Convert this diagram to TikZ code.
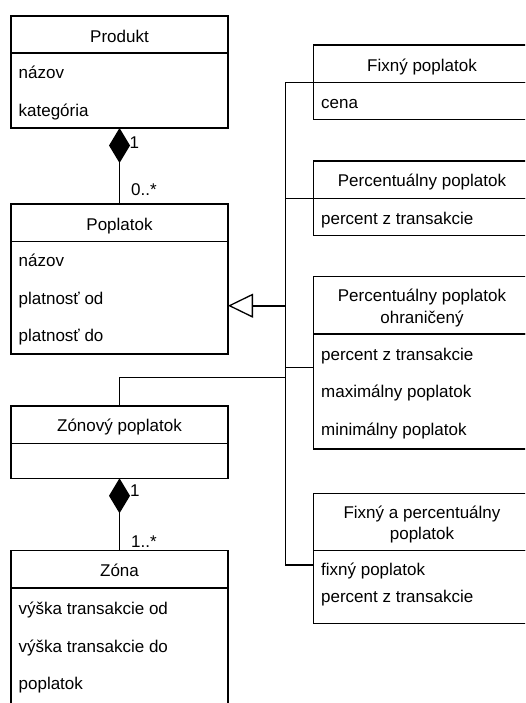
\documentclass[tikz,border=0pt]{standalone}
\usepackage{fontspec}
\setmainfont{Liberation Sans}
\usetikzlibrary{arrows.meta}
\begin{document}
\begin{tikzpicture}[x=1pt,y=-1pt,
  line width=1.3pt,
  every node/.style={font=\fontsize{17pt}{21pt}\selectfont},
  classbox/.style={draw, rectangle, inner sep=0pt, outer sep=0pt,
    minimum width=217pt, anchor=north west},
  headtext/.style={anchor=base, inner sep=0pt, align=center},
  attr/.style={anchor=base west, inner sep=0pt},
  mult/.style={anchor=base west, inner sep=0pt},
  compose/.style={{Diamond[length=35pt,width=21pt]}-},
  genarrow/.style={line width=2pt,
    -{Triangle[open,length=25pt,width=24pt,line width=1.3pt]}},
]
\useasboundingbox (0,0) rectangle (525,703);
\fill[white] (0,0) rectangle (525,703);
\clip (0,0) rectangle (525,703);

% ---------- left column ----------
% Produkt
\node[classbox, minimum height=37pt] (prodH) at (11,16) {};
\node[classbox, minimum height=75pt] (prodB) at (11,53) {};
\node[headtext] (prodT) at (119.5,42.5) {Produkt};
\node[attr] (prodA1) at (18,79) {názov};
\node[attr] (prodA2) at (18,116.5) {kategória};

% Poplatok
\node[classbox, minimum height=37.7pt] (popH) at (11,204) {};
\node[classbox, minimum height=112.3pt] (popB) at (11,241.7) {};
\node[headtext] (popT) at (119.5,230) {Poplatok};
\node[attr] (popA1) at (18,266.7) {názov};
\node[attr] (popA2) at (18,304.3) {platnosť od};
\node[attr] (popA3) at (18,341.7) {platnosť do};

% Zónový poplatok
\node[classbox, minimum height=37.3pt] (zonH) at (11,406) {};
\node[classbox, minimum height=35pt] (zonB) at (11,443.3) {};
\node[headtext] (zonT) at (119.5,431.7) {Zónový poplatok};

% Zóna
\node[classbox, minimum height=37.3pt] (zoneH) at (11,550.7) {};
\node[classbox, minimum height=130pt] (zoneB) at (11,588) {};
\node[headtext] (zoneT) at (119.5,576) {Zóna};
\node[attr] (zoneA1) at (18,614.5) {výška transakcie od};
\node[attr] (zoneA2) at (18,652) {výška transakcie do};
\node[attr] (zoneA3) at (18,689.5) {poplatok};

% ---------- right column ----------
% Fixný poplatok
\node[classbox, minimum height=37.3pt] (fixH) at (313.5,45) {};
\node[classbox, minimum height=37pt] (fixB) at (313.5,82.3) {};
\node[headtext] (fixT) at (422,71.7) {Fixný poplatok};
\node[attr] (fixA1) at (320.5,108.3) {cena};

% Percentuálny poplatok
\node[classbox, minimum height=37.3pt] (pctH) at (313.5,161) {};
\node[classbox, minimum height=37.4pt] (pctB) at (313.5,198.3) {};
\node[headtext] (pctT) at (422,186.7) {Percentuálny poplatok};
\node[attr] (pctA1) at (320.5,224) {percent z transakcie};

% Percentuálny poplatok ohraničený
\node[classbox, minimum height=57.3pt] (ohrH) at (313.5,276.7) {};
\node[classbox, minimum height=115pt] (ohrB) at (313.5,334) {};
\node[headtext] (ohrT1) at (422,301.7) {Percentuálny poplatok};
\node[headtext] (ohrT2) at (422,323.3) {ohraničený};
\node[attr] (ohrA1) at (320.5,360) {percent z transakcie};
\node[attr] (ohrA2) at (320.5,397.3) {maximálny poplatok};
\node[attr] (ohrA3) at (320.5,435) {minimálny poplatok};

% Fixný a percentuálny poplatok
\node[classbox, minimum height=57.4pt] (fapH) at (313.5,493.3) {};
\node[classbox, minimum height=72.6pt] (fapB) at (313.5,550.7) {};
\node[headtext] (fapT1) at (422,518.3) {Fixný a percentuálny};
\node[headtext] (fapT2) at (422,539.3) {poplatok};
\node[attr] (fapA1) at (320.5,575) {fixný poplatok};
\node[attr] (fapA2) at (320.5,602.3) {percent z transakcie};

% ---------- generalisation bus ----------
\coordinate (busA) at (285.5,82.3);
\coordinate (busB) at (285.5,198.3);
\coordinate (busG) at (285.5,305.7);
\coordinate (busC) at (285.5,367.7);
\coordinate (busZ) at (285.5,377.7);
\coordinate (busD) at (285.5,565);

\draw (fixB.north west) -- (busA) -- (busD) -- (busD -| fapB.west);
\draw (busB) -- (pctB.north west);
\draw (busC) -- (busC -| ohrB.west);
\draw (zonH.north) |- (busZ);
\draw[genarrow] (busG) -- (busG -| popB.east);

% ---------- compositions ----------
\draw[compose] (prodB.south) -- (popH.north);
\node[mult] (m1) at (129,149) {1};
\node[mult] (m2) at (130.5,196) {0..*};

\draw[compose] (zonB.south) -- (zoneH.north);
\node[mult] (m3) at (129.5,496.7) {1};
\node[mult] (m4) at (130.5,547.7) {1..*};
\end{tikzpicture}
\end{document}
